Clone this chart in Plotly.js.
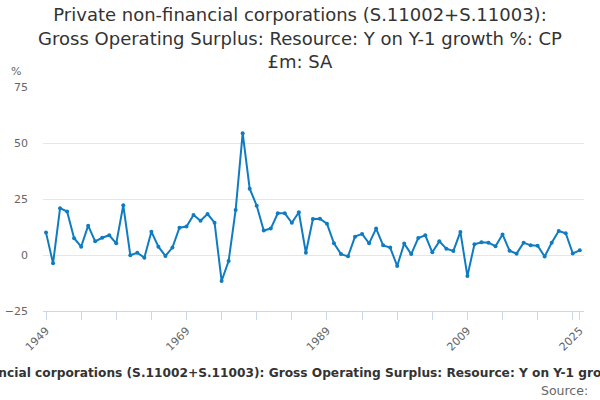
<!DOCTYPE html>
<html>
<head>
<meta charset="utf-8">
<script src="https://cdn.plot.ly/plotly-3.0.1.min.js"></script>
<style>
  html, body { margin: 0; padding: 0; background: #fff; }
  #myChart { width: 600px; height: 400px; }
</style>
</head>
<body>
<div id="myChart"></div>
<script>
// years 1949..2025, one value per year
const years = [
  1949, 1950, 1951, 1952, 1953, 1954, 1955, 1956, 1957, 1958,
  1959, 1960, 1961, 1962, 1963, 1964, 1965, 1966, 1967, 1968,
  1969, 1970, 1971, 1972, 1973, 1974, 1975, 1976, 1977, 1978,
  1979, 1980, 1981, 1982, 1983, 1984, 1985, 1986, 1987, 1988,
  1989, 1990, 1991, 1992, 1993, 1994, 1995, 1996, 1997, 1998,
  1999, 2000, 2001, 2002, 2003, 2004, 2005, 2006, 2007, 2008,
  2009, 2010, 2011, 2012, 2013, 2014, 2015, 2016, 2017, 2018,
  2019, 2020, 2021, 2022, 2023, 2024, 2025
];
const growth = [
  10.0, -3.7, 20.9, 19.4, 7.5, 3.7, 13.1, 6.1, 7.7, 8.8,
  5.2, 22.2, -0.1, 1.0, -1.2, 10.4, 3.7, -0.4, 3.3, 12.2,
  12.7, 17.9, 15.3, 18.3, 14.4, -11.6, -2.7, 20.1, 54.4, 29.6,
  22.0, 10.9, 11.8, 18.6, 18.6, 14.4, 19.1, 1.0, 16.1, 16.2,
  14.0, 5.2, 0.4, -0.6, 8.2, 9.4, 5.2, 11.8, 4.3, 3.3,
  -4.9, 5.1, 0.4, 7.6, 8.8, 1.2, 6.1, 2.8, 1.8, 10.3,
  -9.4, 4.8, 5.7, 5.5, 3.9, 9.2, 1.9, 0.6, 5.5, 4.3,
  4.1, -0.7, 5.5, 10.7, 9.7, 0.7, 2.1
];
// tick marks every 5 years plus the final year, labels only on some
const tickYears = [1949, 1954, 1959, 1964, 1969, 1974, 1979, 1984, 1989, 1994,
                   1999, 2004, 2009, 2014, 2019, 2024, 2025];
const labelYears = [1949, 1969, 1989, 2009, 2025];
const yTicks = [-25, 0, 25, 50, 75];

const titleText = "Private non-financial corporations (S.11002+S.11003):<br>" +
                  "Gross Operating Surplus: Resource: Y on Y-1 growth %: CP<br>£m: SA";
const axisText = "Private non-financial corporations (S.11002+S.11003): Gross Operating Surplus: Resource: Y on Y-1 growth %: CP £m: SA";

const trace = {
  x: years,
  y: growth,
  type: 'scatter',
  mode: 'lines+markers',
  line: { color: '#0f7cc2', width: 2 },
  marker: { color: '#0f7cc2', size: 4 },
  hoverinfo: 'x+y'
};

const layout = {
  width: 600,
  height: 400,
  margin: { l: 43, r: 16, t: 87, b: 89 },
  paper_bgcolor: '#fff',
  plot_bgcolor: '#fff',
  showlegend: false,
  font: { family: 'DejaVu Sans', color: '#666' },
  title: {
    text: titleText,
    font: { family: 'DejaVu Sans', size: 18, color: '#333' },
    x: 0.5, xanchor: 'center',
    y: 0.947, yanchor: 'top', yref: 'container'
  },
  xaxis: {
    range: [1948.57, 2025.6],
    tickmode: 'array',
    tickvals: tickYears,
    ticktext: tickYears.map(y => labelYears.includes(y) ? String(y) : ''),
    tickangle: -45,
    ticks: 'outside',
    ticklen: 8,
    tickcolor: '#ccd6eb',
    tickfont: { size: 11, color: '#666' },
    showgrid: false,
    zeroline: false,
    showline: true,
    linecolor: '#ccd6eb',
    linewidth: 1
  },
  yaxis: {
    range: [-25, 75],
    tickmode: 'array',
    tickvals: yTicks,
    ticks: '',
    ticklabelstandoff: 14,
    tickfont: { size: 11, color: '#666' },
    showgrid: true,
    gridcolor: '#e6e6e6',
    zeroline: false,
    showline: false
  },
  annotations: [
    { text: '%', xref: 'paper', yref: 'paper', x: -0.063, y: 1.0, yshift: 7,
      xanchor: 'left', yanchor: 'bottom', showarrow: false,
      font: { size: 11, color: '#666' } },
    { text: '<b>' + axisText + '</b>', xref: 'paper', yref: 'paper',
      x: 0.486, y: -0.275, xanchor: 'center', yanchor: 'middle', showarrow: false,
      font: { size: 12.2, color: '#333' } },
    { text: 'Source:', xref: 'paper', yref: 'paper', x: 1.011, y: -0.355,
      xanchor: 'right', yanchor: 'middle', showarrow: false,
      font: { size: 12.5, color: '#666' } }
  ]
};

Plotly.newPlot('myChart', [trace], layout, { displayModeBar: false, staticPlot: true });
</script>
</body>
</html>
